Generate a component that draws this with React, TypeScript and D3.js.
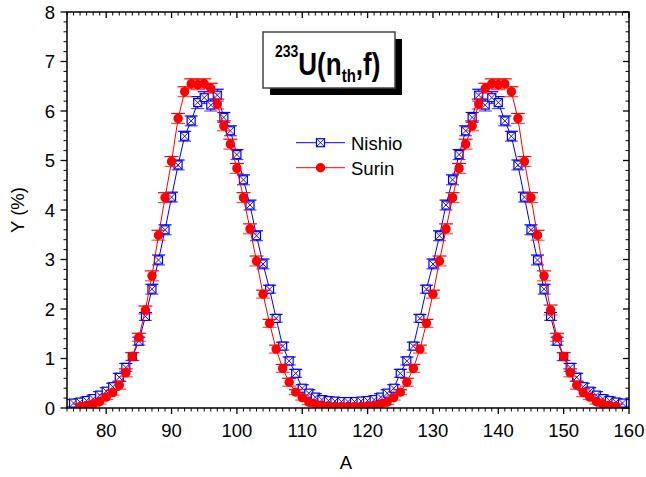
import React from "react";
import * as d3 from "d3";

const NISHIO_A = d3.range(75, 160);
const NISHIO_Y = [
  0.10, 0.12, 0.15, 0.19, 0.26, 0.34, 0.43, 0.62, 0.82, 1.04, 1.35, 1.85, 2.40, 2.99, 3.60, 4.26, 4.91, 5.49, 5.80, 6.17,
  6.27, 6.12, 6.32, 5.87, 5.60, 5.12, 4.61, 4.10, 3.48, 2.91, 2.40, 1.81, 1.25, 0.95, 0.70, 0.40, 0.30, 0.22, 0.17, 0.15,
  0.14, 0.13, 0.13,
  0.13, 0.14, 0.15, 0.17, 0.22, 0.30, 0.40, 0.70, 0.95, 1.25, 1.81, 2.40, 2.91, 3.48, 4.10, 4.61, 5.12, 5.60, 5.87, 6.32,
  6.12, 6.27, 6.17, 5.80, 5.49, 4.91, 4.26, 3.60, 2.99, 2.40, 1.85, 1.35, 1.04, 0.82, 0.62, 0.43, 0.34, 0.26, 0.19, 0.15,
  0.12, 0.10,
];
const NISHIO_ERR = [
  0.07, 0.07, 0.07, 0.07, 0.07, 0.07, 0.07, 0.08, 0.08, 0.08, 0.08, 0.08, 0.10, 0.10, 0.10, 0.10, 0.10, 0.10, 0.10, 0.12,
  0.12, 0.12, 0.12, 0.10, 0.10, 0.10, 0.10, 0.10, 0.10, 0.10, 0.08, 0.08, 0.08, 0.08, 0.08, 0.07, 0.07, 0.07, 0.07, 0.07,
  0.07, 0.07, 0.07, 0.07, 0.07, 0.07, 0.07, 0.07, 0.07, 0.07, 0.08, 0.08, 0.08, 0.08, 0.08, 0.10, 0.10, 0.10, 0.10, 0.10,
  0.10, 0.10, 0.12, 0.12, 0.12, 0.12, 0.10, 0.10, 0.10, 0.10, 0.10, 0.10, 0.10, 0.08, 0.08, 0.08, 0.08, 0.08, 0.07, 0.07,
  0.07, 0.07, 0.07, 0.07, 0.07,
];

const SURIN_A = d3.range(76, 159);
const SURIN_Y = [
  0.03, 0.05, 0.08, 0.13, 0.22, 0.31, 0.46, 0.71, 1.04, 1.43, 1.98, 2.67, 3.49, 4.25, 4.98, 5.85, 6.39, 6.55, 6.53, 6.55,
  6.46, 6.14, 5.70, 5.33, 4.84, 4.25, 3.62, 2.97, 2.30, 1.71, 1.19, 0.80, 0.52, 0.32, 0.21, 0.12, 0.08, 0.05, 0.04, 0.03,
  0.03, 0.03,
  0.03, 0.03, 0.04, 0.05, 0.08, 0.12, 0.21, 0.32, 0.52, 0.80, 1.19, 1.71, 2.30, 2.97, 3.62, 4.25, 4.84, 5.33, 5.70, 6.14,
  6.46, 6.55, 6.53, 6.55, 6.39, 5.85, 4.98, 4.25, 3.49, 2.67, 1.98, 1.43, 1.04, 0.71, 0.46, 0.31, 0.22, 0.13, 0.08, 0.05,
  0.03,
];
const SURIN_ERR = [
  0.05, 0.05, 0.05, 0.05, 0.05, 0.05, 0.08, 0.08, 0.08, 0.08, 0.08, 0.10, 0.10, 0.10, 0.10, 0.10, 0.10, 0.10, 0.10, 0.10,
  0.10, 0.10, 0.10, 0.10, 0.10, 0.10, 0.10, 0.10, 0.08, 0.08, 0.08, 0.08, 0.08, 0.05, 0.05, 0.05, 0.05, 0.05, 0.05, 0.05,
  0.05, 0.05, 0.05, 0.05, 0.05, 0.05, 0.05, 0.05, 0.05, 0.05, 0.08, 0.08, 0.08, 0.08, 0.08, 0.10, 0.10, 0.10, 0.10, 0.10,
  0.10, 0.10, 0.10, 0.10, 0.10, 0.10, 0.10, 0.10, 0.10, 0.10, 0.10, 0.10, 0.10, 0.08, 0.08, 0.08, 0.08, 0.08, 0.05, 0.05,
  0.05, 0.05, 0.05,
];

const X_TICKS = [80, 90, 100, 110, 120, 130, 140, 150, 160];
const Y_TICKS = [0, 1, 2, 3, 4, 5, 6, 7, 8];
const SERIES_NAMES = ["Nishio", "Surin"];

const W = 646, H = 477;
const L = 67, R = 629, T = 12, B = 408;
const FONT = "'Liberation Sans', Arial, sans-serif";

export default function App() {
  const x = d3.scaleLinear().domain([74, 160]).range([L, R]);
  const y = d3.scaleLinear().domain([0, 8]).range([B, T]);
  const xMinor = d3.range(74, 161, 1).filter((v) => v % 10 !== 0);
  const yMinor = d3.range(0, 40).map((i) => i * 0.2).filter((v, i) => i % 5 !== 0);

  const nishio = NISHIO_A.map((a, i) => ({ a, v: NISHIO_Y[i], e: NISHIO_ERR[i] }));
  const surin = SURIN_A.map((a, i) => ({ a, v: SURIN_Y[i], e: SURIN_ERR[i] }));
  const line = d3.line<{ a: number; v: number }>().x((d) => x(d.a)).y((d) => y(d.v));

  const blue = "#0000ff";
  const red = "#ff0000";
  const sq = 4;

  const square = (cx: number, cy: number, key: any) => (
    <g key={key}>
      <rect x={cx - sq} y={cy - sq} width={sq * 2} height={sq * 2} fill="#fff" stroke={blue} strokeWidth={1.2} />
      <line x1={cx - sq} y1={cy - sq} x2={cx + sq} y2={cy + sq} stroke={blue} strokeWidth={0.9} />
      <line x1={cx - sq} y1={cy + sq} x2={cx + sq} y2={cy - sq} stroke={blue} strokeWidth={0.9} />
    </g>
  );

  const errBar = (cx: number, v: number, e: number, color: string, hw: number, key: any) => (
    <g key={key} stroke={color} strokeWidth={1.2}>
      <line x1={cx} x2={cx} y1={y(v - e)} y2={y(v + e)} />
      <line x1={cx - hw} x2={cx + hw} y1={y(v + e)} y2={y(v + e)} />
      <line x1={cx - hw} x2={cx + hw} y1={y(v - e)} y2={y(v - e)} opacity={0.7} />
    </g>
  );

  return (
    <svg width={W} height={H} style={{ position: "fixed", left: 0, top: 0, background: "#fff" }} fontFamily={FONT}>
      <rect x={0} y={0} width={W} height={H} fill="#fff" />
      <defs>
        <clipPath id="plotclip">
          <rect x={L} y={T - 2} width={R - L} height={B - T + 2} />
        </clipPath>
      </defs>

      {/* series */}
      <g clipPath="url(#plotclip)">
        <path d={line(nishio) || ""} fill="none" stroke={blue} strokeWidth={1} />
        {nishio.map((d, i) => errBar(x(d.a), d.v, d.e, blue, 6.5, "ne" + i))}
        {nishio.map((d, i) => square(x(d.a), y(d.v), "ns" + i))}
        <path d={line(surin) || ""} fill="none" stroke={red} strokeWidth={1} />
        {surin.map((d, i) => errBar(x(d.a), d.v, d.e, red, 7, "se" + i))}
        {surin.map((d, i) => (
          <circle key={"sc" + i} cx={x(d.a)} cy={y(d.v)} r={4.7} fill={red} />
        ))}
      </g>

      {/* frame */}
      <rect x={L} y={T} width={R - L} height={B - T} fill="none" stroke="#000" strokeWidth={1.5} />

      {/* x ticks */}
      {X_TICKS.map((t) => (
        <g key={"xt" + t}>
          <line x1={x(t)} x2={x(t)} y1={B} y2={B + 6} stroke="#000" strokeWidth={1.3} />
          <line x1={x(t)} x2={x(t)} y1={T} y2={T + 6} stroke="#000" strokeWidth={1.3} />
          <text x={x(t)} y={437} textAnchor="middle" fontSize={18.5}>{t}</text>
        </g>
      ))}
      {xMinor.map((t) => (
        <g key={"xm" + t}>
          <line x1={x(t)} x2={x(t)} y1={B} y2={B + 3.5} stroke="#000" strokeWidth={1} />
          <line x1={x(t)} x2={x(t)} y1={T} y2={T + 3.5} stroke="#000" strokeWidth={1} />
        </g>
      ))}
      {/* y ticks */}
      {Y_TICKS.map((t) => (
        <g key={"yt" + t}>
          <line x1={L - 6.5} x2={L} y1={y(t)} y2={y(t)} stroke="#000" strokeWidth={1.3} />
          <line x1={R - 6} x2={R} y1={y(t)} y2={y(t)} stroke="#000" strokeWidth={1.3} />
          <text x={55} y={y(t) + 6.5} textAnchor="end" fontSize={18.5}>{t}</text>
        </g>
      ))}
      {yMinor.map((t, i) => (
        <g key={"ym" + i}>
          <line x1={L - 3.5} x2={L} y1={y(t)} y2={y(t)} stroke="#000" strokeWidth={1} />
          <line x1={R - 3.5} x2={R} y1={y(t)} y2={y(t)} stroke="#000" strokeWidth={1} />
        </g>
      ))}

      {/* axis titles */}
      <text x={(L + R) / 2 - 2} y={469} textAnchor="middle" fontSize={18.5}>A</text>
      <text transform={`translate(24, ${(T + B) / 2}) rotate(-90)`} textAnchor="middle" fontSize={18.5}>Y (%)</text>

      {/* title box */}
      <rect x={270} y={39} width={132} height={56} fill="#000" />
      <rect x={263} y={32} width={132} height={56} fill="#fff" stroke="#444" strokeWidth={1.5} />
      <g transform="translate(0, 75) scale(1, 1.18)">
        <text x={275} y={0} fontWeight="bold" fontSize={26}>
          <tspan fontSize={14} dy={-15}>233</tspan>
          <tspan dy={15}>U(n</tspan>
          <tspan fontSize={15} dy={6}>th</tspan>
          <tspan dy={-6}>,f)</tspan>
        </text>
      </g>

      {/* legend */}
      <line x1={296} x2={345} y1={142.7} y2={142.7} stroke={blue} strokeWidth={1} />
      {square(320.5, 142.7, "lg1")}
      <text x={351} y={149.5} fontSize={18.5}>{SERIES_NAMES[0]}</text>
      <line x1={296} x2={345} y1={167.7} y2={167.7} stroke={red} strokeWidth={1} />
      <circle cx={320.5} cy={167.7} r={4.7} fill={red} />
      <text x={351} y={174.5} fontSize={18.5}>{SERIES_NAMES[1]}</text>
    </svg>
  );
}
